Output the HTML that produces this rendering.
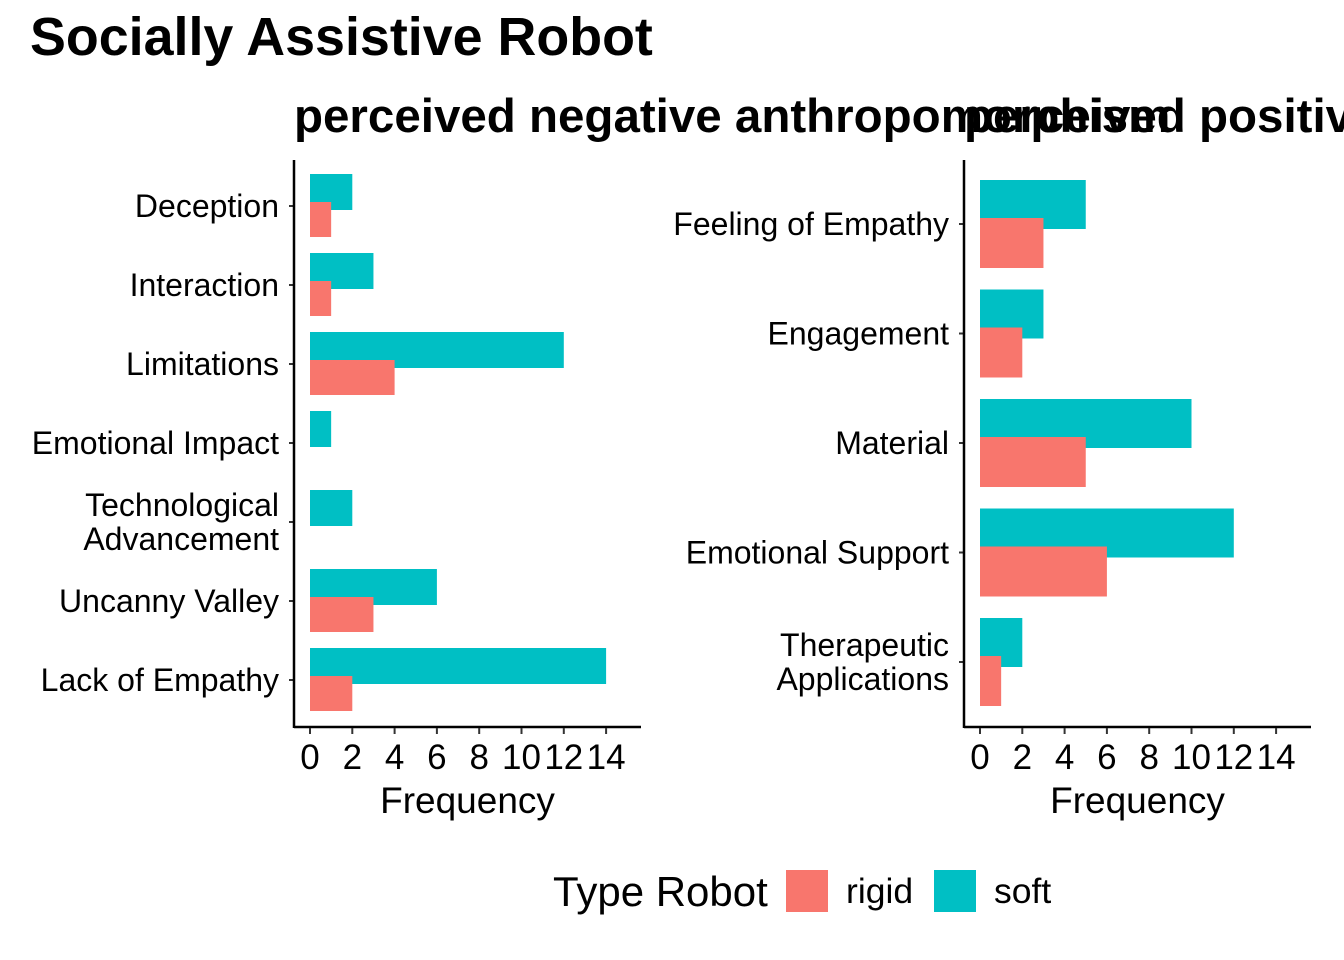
<!DOCTYPE html>
<html><head><meta charset="utf-8"><style>
body{margin:0;background:#fff;}
svg{display:block;font-family:"Liberation Sans",Arial,sans-serif;}
</style></head><body>
<svg id="c" width="1344" height="960" xmlns="http://www.w3.org/2000/svg">
<text x="30" y="55" font-size="53.8" font-weight="bold">Socially Assistive Robot</text>
<text x="294" y="132" font-size="47.5" font-weight="bold">perceived negative anthropomorphism</text>
<text x="964" y="132" font-size="47.5" font-weight="bold">perceived positive anthropomorphism</text>
<g id="g"></g>
<g>
<text x="553" y="906" font-size="42">Type Robot</text>
<rect x="786" y="870" width="42" height="42" fill="#F8766D"/>
<text x="846" y="903" font-size="35.5">rigid</text>
<rect x="934" y="870" width="42" height="42" fill="#00BFC4"/>
<text x="994" y="903" font-size="35.5">soft</text>
</g>
</svg>
<script>
const leftCats=[["Deception"],["Interaction"],["Limitations"],["Emotional Impact"],["Technological","Advancement"],["Uncanny Valley"],["Lack of Empathy"]];
const leftSoft=[2,3,12,1,2,6,14];
const leftRigid=[1,1,4,0,0,3,2];
const rightCats=[["Feeling of Empathy"],["Engagement"],["Material"],["Emotional Support"],["Therapeutic","Applications"]];
const rightSoft=[5,3,10,12,2];
const rightRigid=[3,2,5,6,1];
const ticks=[0,2,4,6,8,10,12,14];
const NS="http://www.w3.org/2000/svg";
const g=document.getElementById('g');
function el(t,a,txt){const e=document.createElementNS(NS,t);for(const k in a)e.setAttribute(k,a[k]);if(txt!==undefined)e.textContent=txt;g.appendChild(e);return e;}
function panel(ax,x0,axEnd,cats,soft,rigid,y0,step,sTop,sBot,rTop,rBot,pfx){
  const sx=v=>x0+v*21.15;
  cats.forEach((c,i)=>{
    const cy=y0+i*step;
    let b=el('rect',{x:sx(0),y:cy-sTop,width:sx(soft[i])-sx(0),height:sTop+sBot,fill:'#00BFC4'});
    
    
    if(rigid[i]>0){b=el('rect',{x:sx(0),y:cy-rTop,width:sx(rigid[i])-sx(0),height:rTop+rBot,fill:'#F8766D'});
    
    }
    el('line',{x1:ax-5,x2:ax,y1:cy,y2:cy,stroke:'#333','stroke-width':2});
    const n=c.length;
    c.forEach((s,j)=>{const tx=el('text',{x:ax-15,y:cy+11+(j-(n-1)/2)*34,'font-size':32,'text-anchor':'end'},s);
      
      });
  });
  el('line',{x1:ax,x2:ax,y1:160,y2:728,stroke:'#000','stroke-width':2.5});
  el('line',{x1:ax,x2:axEnd,y1:727,y2:727,stroke:'#000','stroke-width':2.5});
  ticks.forEach(v=>{el('line',{x1:sx(v),x2:sx(v),y1:728,y2:734,stroke:'#333','stroke-width':2});
    const tx=el('text',{x:sx(v),y:769,'font-size':35,'text-anchor':'middle'},String(v));
    
    });
  const xt=el('text',{x:(ax+axEnd)/2,y:813,'font-size':37,'text-anchor':'middle'},'Frequency');
  
  
}
panel(294,310,641,leftCats,leftSoft,leftRigid,206,79,32,4,4,31,'left');
panel(964,980,1311,rightCats,rightSoft,rightRigid,224,109.5,44,5,6,44,'right');
</script>
</body></html>
